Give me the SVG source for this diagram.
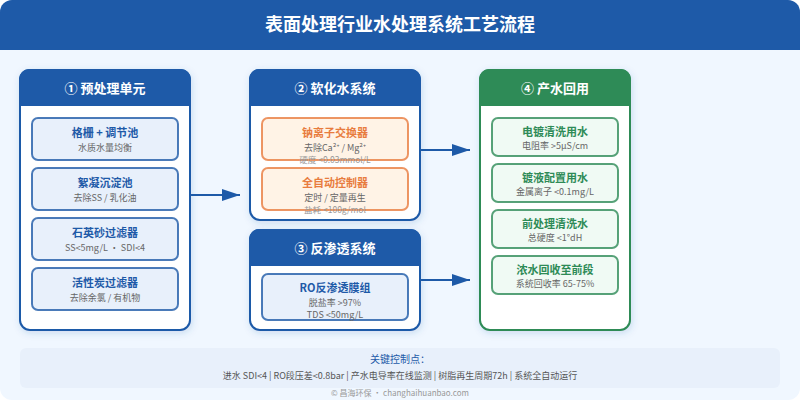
<svg xmlns="http://www.w3.org/2000/svg" width="800" height="400" viewBox="0 0 800 400">
<style>
text{font-family:"Noto Sans CJK SC","Noto Sans",sans-serif;text-anchor:middle}
.title{font-size:18px;font-weight:700;fill:#fff}
.ph{font-size:13px;font-weight:700;fill:#fff}
.panel{fill:#fff;stroke-width:2}
.blue{stroke:#1e5aa8}.green{stroke:#2e8b57}
.hb{fill:#1e5aa8}.hg{fill:#2e8b57}
.card{stroke-width:2;stroke-opacity:.8}
.cb{fill:#e8f0fb;stroke:#1e5aa8}
.co{fill:#fff3e6;stroke:#e87c3e}
.cg{fill:#f0faf4;stroke:#2e8b57}
.n{font-size:11px;font-weight:700}
.nb{fill:#1e5aa8}.no{fill:#e87c3e}.ng{fill:#2e8b57}
.s{font-size:9px;fill:#666}
.t{font-size:8.5px;fill:#999}
.conn{stroke:#1e5aa8;stroke-width:2;fill:none;marker-end:url(#arrow)}
</style>
<defs>
<marker id="arrow" markerUnits="userSpaceOnUse" markerWidth="18" markerHeight="12" refX="18" refY="6" orient="auto"><polygon points="0,0 18,6 0,12" fill="#1e5aa8"/></marker>
<filter id="sh" x="-10%" y="-10%" width="120%" height="120%"><feDropShadow dx="1" dy="2" stdDeviation="3.5" flood-color="#1e5aa8" flood-opacity=".18"/></filter>
<clipPath id="page"><rect width="800" height="400" rx="12"/></clipPath>
</defs>
<rect width="800" height="400" fill="#fff"/>
<g clip-path="url(#page)">
<rect width="800" height="400" fill="#f0f7ff"/>
<rect width="800" height="50" fill="#1e5aa8"/>
</g>
<text class="title" x="400" y="31">表面处理行业水处理系统工艺流程</text>

<g id="connectors">
<path class="conn" d="M190 195H240"/>
<path class="conn" d="M420 150H470"/>
<path class="conn" d="M420 280H470"/>
</g>

<g id="panel-1">
<rect class="panel blue" x="20" y="70" width="170" height="260" rx="10" filter="url(#sh)"/>
<path class="hb" d="M19 106V79a10 10 0 0 1 10-10H181a10 10 0 0 1 10 10V106Z"/>
<text class="ph" x="105" y="93">① 预处理单元</text>
</g>
<g id="node-grid">
<rect class="card cb" x="32" y="118" width="146" height="42" rx="6"/>
<text class="n nb" x="105" y="137">格栅 + 调节池</text><text class="s" x="105" y="151">水质水量均衡</text>
</g>
<g id="node-floc">
<rect class="card cb" x="32" y="168" width="146" height="42" rx="6"/>
<text class="n nb" x="105" y="187">絮凝沉淀池</text><text class="s" x="105" y="201">去除SS / 乳化油</text>
</g>
<g id="node-sand">
<rect class="card cb" x="32" y="218" width="146" height="42" rx="6"/>
<text class="n nb" x="105" y="237">石英砂过滤器</text><text class="s" x="105" y="251">SS&lt;5mg/L ・ SDI&lt;4</text>
</g>
<g id="node-carbon">
<rect class="card cb" x="32" y="268" width="146" height="42" rx="6"/>
<text class="n nb" x="105" y="287">活性炭过滤器</text><text class="s" x="105" y="301">去除余氯 / 有机物</text>
</g>

<g id="panel-2">
<rect class="panel blue" x="250" y="70" width="170" height="150" rx="10" filter="url(#sh)"/>
<path class="hb" d="M249 106V79a10 10 0 0 1 10-10H411a10 10 0 0 1 10 10V106Z"/>
<text class="ph" x="335" y="93">② 软化水系统</text>
</g>
<g id="node-ion">
<rect class="card co" x="262" y="118" width="146" height="42" rx="6"/>
<text class="n no" x="335" y="137">钠离子交换器</text>
<text class="s" x="335" y="151">去除Ca²⁺ / Mg²⁺</text>
<text class="t" x="335" y="163">硬度 &lt;0.03mmol/L</text>
</g>
<g id="node-ctrl">
<rect class="card co" x="262" y="168" width="146" height="42" rx="6"/>
<text class="n no" x="335" y="187">全自动控制器</text>
<text class="s" x="335" y="201">定时 / 定量再生</text>
<text class="t" x="335" y="213">盐耗 &lt;100g/mol</text>
</g>

<g id="panel-3">
<rect class="panel blue" x="250" y="230" width="170" height="100" rx="10" filter="url(#sh)"/>
<path class="hb" d="M249 266V239a10 10 0 0 1 10-10H411a10 10 0 0 1 10 10V266Z"/>
<text class="ph" x="335" y="253">③ 反渗透系统</text>
</g>
<g id="node-ro">
<rect class="card cb" x="262" y="274" width="146" height="46" rx="6"/>
<text class="n nb" x="335" y="292">RO反渗透膜组</text>
<text class="s" x="335" y="306">脱盐率 &gt;97%</text>
<text class="s" x="335" y="318">TDS &lt;50mg/L</text>
</g>

<g id="panel-4">
<rect class="panel green" x="480" y="70" width="150" height="260" rx="10" filter="url(#sh)"/>
<path class="hg" d="M479 106V79a10 10 0 0 1 10-10H621a10 10 0 0 1 10 10V106Z"/>
<text class="ph" x="555" y="93">④ 产水回用</text>
</g>
<g id="node-plate">
<rect class="card cg" x="492" y="118" width="126" height="38" rx="6"/>
<text class="n ng" x="555" y="136">电镀清洗用水</text><text class="s" x="555" y="149">电阻率 &gt;5μS/cm</text>
</g>
<g id="node-bath">
<rect class="card cg" x="492" y="164" width="126" height="38" rx="6"/>
<text class="n ng" x="555" y="182">镀液配置用水</text><text class="s" x="555" y="195">金属离子 &lt;0.1mg/L</text>
</g>
<g id="node-pre">
<rect class="card cg" x="492" y="210" width="126" height="38" rx="6"/>
<text class="n ng" x="555" y="228">前处理清洗水</text><text class="s" x="555" y="241">总硬度 &lt;1°dH</text>
</g>
<g id="node-conc">
<rect class="card cg" x="492" y="256" width="126" height="38" rx="6"/>
<text class="n ng" x="555" y="274">浓水回收至前段</text><text class="s" x="555" y="287">系统回收率 65-75%</text>
</g>

<g id="footer">
<rect x="20" y="348" width="760" height="40" rx="6" fill="#e8f0fb"/>
<text x="400" y="363" font-size="10" fill="#1e5aa8">关键控制点：</text>
<text x="400" y="379" font-size="9" fill="#555">进水 SDI&lt;4 | RO段压差&lt;0.8bar | 产水电导率在线监测 | 树脂再生周期72h | 系统全自动运行</text>
<text x="400" y="396" font-size="8" fill="#999">© 昌海环保 ・ changhaihuanbao.com</text>
</g>
</svg>
